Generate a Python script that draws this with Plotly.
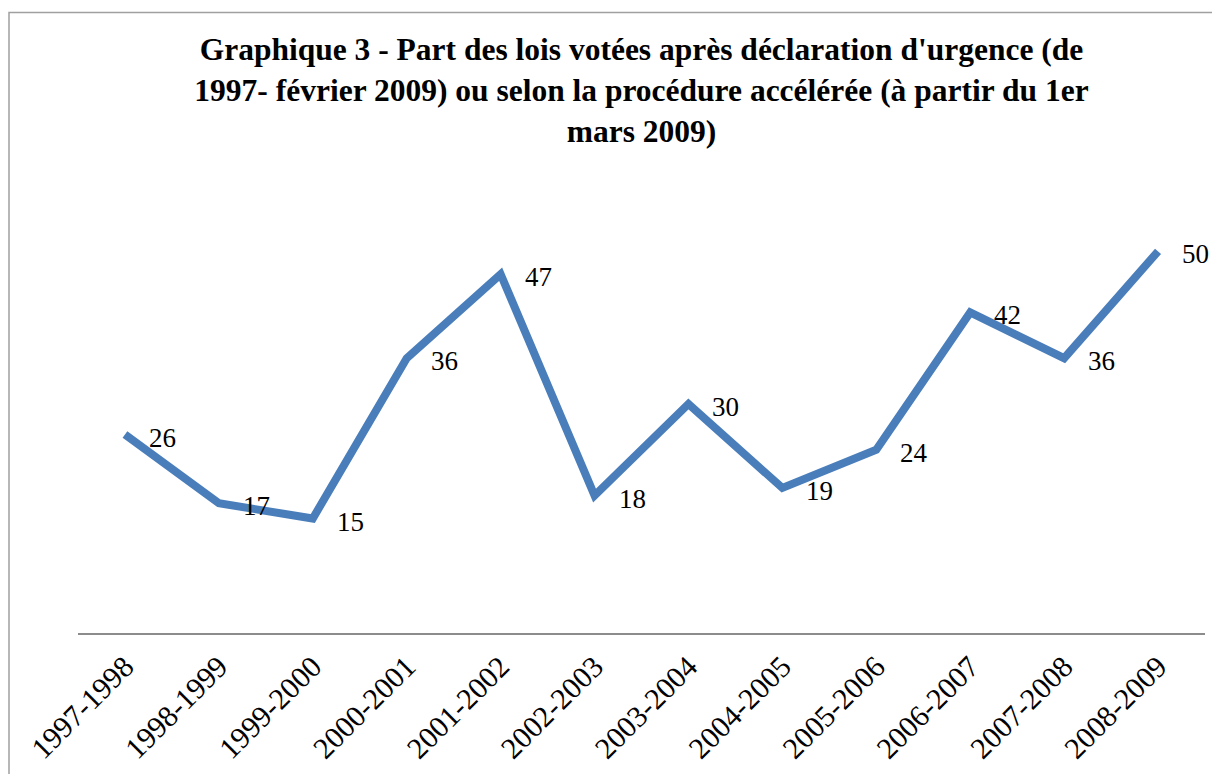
import plotly.graph_objects as go

categories = ["1997-1998", "1998-1999", "1999-2000", "2000-2001", "2001-2002", "2002-2003",
              "2003-2004", "2004-2005", "2005-2006", "2006-2007", "2007-2008", "2008-2009"]
values = [26, 17, 15, 36, 47, 18, 30, 19, 24, 42, 36, 50]
labels = [str(v) for v in values]

title_text = ("<b>Graphique 3 - Part des lois votées après déclaration d'urgence (de<br>"
              "1997- février 2009) ou selon la procédure accélérée (à partir du 1er<br>"
              "mars 2009)</b>")

SERIF = "Liberation Serif, Times New Roman, serif"

# page body has an 8px margin; sizes below are in figure coordinates
W, H = 1212, 766
ml, mr, mt, mb = 70, 15, 167, 141

fig = go.Figure()
fig.add_trace(go.Scatter(
    x=categories, y=values,
    mode="lines",
    line=dict(color="#4A7EBB", width=8),
    hoverinfo="skip",
))

for c, v, t in zip(categories, values, labels):
    fig.add_annotation(x=c, y=v, text=t, showarrow=False,
                       xanchor="left", yanchor="middle", xshift=22, yshift=-3,
                       font=dict(family=SERIF, size=27, color="#000000"))

pw = W - ml - mr
ph = H - mt - mb
fig.add_shape(type="rect", xref="paper", yref="paper",
              x0=(1 - ml) / pw, x1=(W + 20 - ml) / pw,
              y0=-(mb + 20) / ph, y1=((H - mb) - 4.5) / ph,
              line=dict(color="#A0A0A0", width=1.5), fillcolor="rgba(0,0,0,0)", layer="below")

fig.update_layout(
    width=W, height=H,
    margin=dict(l=ml, r=mr, t=mt, b=mb, autoexpand=False),
    paper_bgcolor="white", plot_bgcolor="white",
    showlegend=False,
    title=dict(text=title_text, x=0.5, xref="paper", xanchor="center",
               y=1 - 52 / H, yanchor="middle", automargin=False,
               font=dict(family=SERIF, size=31.5, color="#000000")),
    xaxis=dict(type="category", showgrid=False, zeroline=False, automargin=False,
               showline=True, linecolor="#8C8C8C", linewidth=2,
               ticks="", tickangle=-45, ticklabelstandoff=2,
               tickfont=dict(family=SERIF, size=30, color="#000000"),
               range=[-0.5, 11.5]),
    yaxis=dict(range=[0, 60], showgrid=False, zeroline=False, showline=False,
               automargin=False, showticklabels=False, ticks=""),
)

fig.write_html("out.html")
